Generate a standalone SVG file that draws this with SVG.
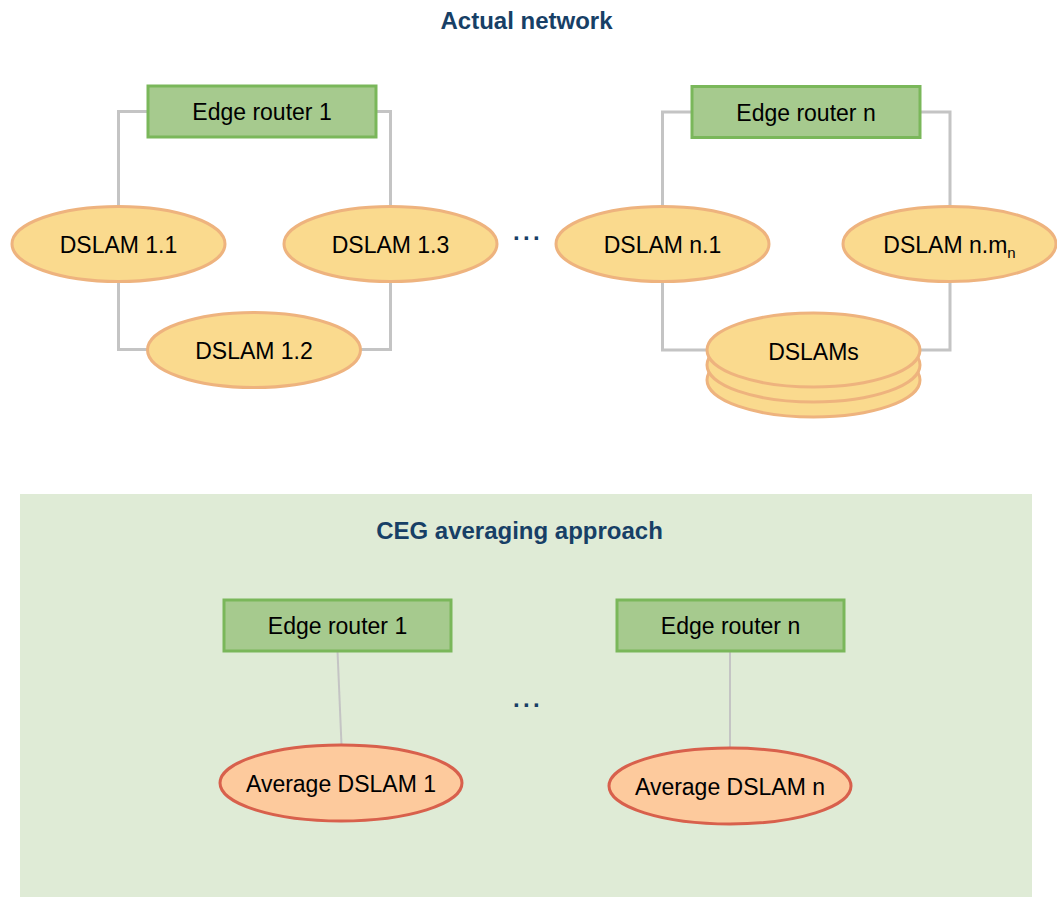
<svg xmlns="http://www.w3.org/2000/svg" width="1057" height="897" viewBox="0 0 1057 897">
<style>
  text { font-family: "Liberation Sans", Arial, sans-serif; fill: #000; }
  .t { font-size: 23px; text-anchor: middle; }
  .title { font-size: 24px; font-weight: bold; fill: #173f66; text-anchor: middle; }
  .dots { font-size: 24px; font-weight: bold; fill: #173f66; text-anchor: middle; letter-spacing: 3.3px; }
  .router { fill: #a6ca8e; stroke: #7ab75a; stroke-width: 3; }
  .dslam { fill: #fada8e; stroke: #eeb37e; stroke-width: 3; }
  .avg { fill: #fdca9d; stroke: #d8604c; stroke-width: 3; }
  .link { fill: none; stroke: #c4c4c4; stroke-width: 3; }
  .link2 { fill: none; stroke: #c4c4c4; stroke-width: 2; }
</style>

<rect id="panel" x="20" y="494" width="1012" height="403" fill="#dfebd6"/>

<text class="title" x="526.5" y="29">Actual network</text>
<text class="title" x="519.5" y="538.5">CEG averaging approach</text>
<text class="dots" x="528" y="239.5">...</text>
<text class="dots" x="528" y="707">...</text>

<g id="connectors">
  <polyline class="link" points="148,111.5 118.5,111.5 118.5,206"/>
  <polyline class="link" points="376,111.5 390.5,111.5 390.5,206"/>
  <polyline class="link" points="118.5,282 118.5,349.5 148,349.5"/>
  <polyline class="link" points="390.5,282 390.5,349.5 361,349.5"/>
  <polyline class="link" points="692,112 662.5,112 662.5,206"/>
  <polyline class="link" points="920,112 950,112 950,206"/>
  <polyline class="link" points="662.5,282 662.5,350 707,350"/>
  <polyline class="link" points="950,282 950,350 920,350"/>
  <line class="link2" x1="337.5" y1="651" x2="341.5" y2="745"/>
  <line class="link2" x1="730" y1="651" x2="730" y2="748"/>
</g>

<g id="edge-router-1">
  <rect class="router" x="148" y="86" width="228" height="51"/>
  <text class="t" x="262" y="120">Edge router 1</text>
</g>
<g id="edge-router-n">
  <rect class="router" x="692" y="86.5" width="228" height="51"/>
  <text class="t" x="806" y="120.5">Edge router n</text>
</g>
<g id="dslam-1-1">
  <ellipse class="dslam" cx="118.5" cy="244" rx="106.5" ry="37.5"/>
  <text class="t" x="118.5" y="252.5">DSLAM 1.1</text>
</g>
<g id="dslam-1-3">
  <ellipse class="dslam" cx="390.5" cy="244" rx="106.5" ry="37.5"/>
  <text class="t" x="390.5" y="252.5">DSLAM 1.3</text>
</g>
<g id="dslam-1-2">
  <ellipse class="dslam" cx="254" cy="350" rx="106.5" ry="37.5"/>
  <text class="t" x="254" y="358.5">DSLAM 1.2</text>
</g>
<g id="dslam-n-1">
  <ellipse class="dslam" cx="662.5" cy="244" rx="106.5" ry="37.5"/>
  <text class="t" x="662.5" y="252.5">DSLAM n.1</text>
</g>
<g id="dslam-n-mn">
  <ellipse class="dslam" cx="949.5" cy="244" rx="106.5" ry="37.5"/>
  <text class="t" x="949.5" y="252.5">DSLAM n.m<tspan font-size="15" dy="5">n</tspan></text>
</g>
<g id="dslams">
  <ellipse class="dslam" cx="813.5" cy="380" rx="106.5" ry="37"/>
  <ellipse class="dslam" cx="813.5" cy="365" rx="106.5" ry="37"/>
  <ellipse class="dslam" cx="813.5" cy="350" rx="106.5" ry="37"/>
  <text class="t" x="813.5" y="360">DSLAMs</text>
</g>

<g id="edge-router-1-b">
  <rect class="router" x="224" y="600" width="227" height="51"/>
  <text class="t" x="337.5" y="634">Edge router 1</text>
</g>
<g id="edge-router-n-b">
  <rect class="router" x="617" y="600" width="227" height="51"/>
  <text class="t" x="730.5" y="634">Edge router n</text>
</g>
<g id="average-dslam-1">
  <ellipse class="avg" cx="341" cy="783" rx="121" ry="38"/>
  <text class="t" x="341" y="792">Average DSLAM 1</text>
</g>
<g id="average-dslam-n">
  <ellipse class="avg" cx="730" cy="786" rx="121" ry="38"/>
  <text class="t" x="730" y="795">Average DSLAM n</text>
</g>
</svg>
